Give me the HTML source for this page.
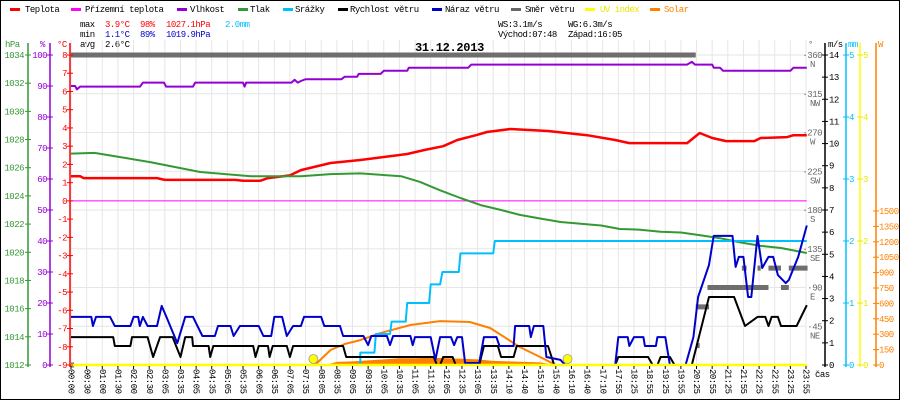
<!DOCTYPE html>
<html><head><meta charset="utf-8">
<style>
html,body{margin:0;padding:0;background:#fff;}
#wrap{position:relative;width:900px;height:400px;overflow:hidden;}
svg{display:block;font-family:"Liberation Mono","DejaVu Sans Mono",monospace;font-size:9px;letter-spacing:-0.5px;}
</style></head>
<body>
<div id="wrap">
<svg id="chart" width="900" height="400" viewBox="0 0 900 400" xmlns="http://www.w3.org/2000/svg">
<rect x="0.5" y="0.5" width="899" height="399" fill="#fff" stroke="#000" stroke-width="1"/>
<g id="legend">
  <rect x="10" y="8" width="10" height="3" fill="#ff0000"/>
  <text x="25" y="12">Teplota</text>
  <rect x="71" y="8" width="10" height="3" fill="#ff00ff"/>
  <text x="85" y="12">Přízemní teplota</text>
  <rect x="177" y="8" width="10" height="3" fill="#9400d3"/>
  <text x="190" y="12">Vlhkost</text>
  <rect x="238" y="8" width="10" height="3" fill="#339933"/>
  <text x="250" y="12">Tlak</text>
  <rect x="283" y="8" width="10" height="3" fill="#00bfff"/>
  <text x="295" y="12">Srážky</text>
  <rect x="338" y="8" width="10" height="3" fill="#000"/>
  <text x="350" y="12">Rychlost větru</text>
  <rect x="432" y="8" width="10" height="3" fill="#0000cc"/>
  <text x="445" y="12">Náraz větru</text>
  <rect x="511" y="8" width="10" height="3" fill="#666"/>
  <text x="525" y="12">Směr větru</text>
  <rect x="585" y="8" width="10" height="3" fill="#ffff00"/>
  <text x="600" y="12" fill="#e8e800">UV index</text>
  <rect x="650" y="8" width="10" height="3" fill="#ff8000"/>
  <text x="664" y="12" fill="#ff8000">Solar</text>
</g>
<g id="stats">
  <text x="80" y="27">max</text>
  <text x="105" y="27" fill="#ff0000">3.9°C</text>
  <text x="140" y="27" fill="#ff0000">98%</text>
  <text x="166" y="27" fill="#ff0000">1027.1hPa</text>
  <text x="225" y="27" fill="#00bfff">2.0mm</text>
  <text x="80" y="37">min</text>
  <text x="105" y="37" fill="#0000cc">1.1°C</text>
  <text x="140" y="37" fill="#0000cc">89%</text>
  <text x="166" y="37" fill="#0000cc">1019.9hPa</text>
  <text x="80" y="47">avg</text>
  <text x="105" y="47">2.6°C</text>
  <text x="498" y="27">WS:3.1m/s</text>
  <text x="568" y="27">WG:6.3m/s</text>
  <text x="498" y="37">Východ:07:48</text>
  <text x="568" y="37">Západ:16:05</text>
</g>
<g id="grid"></g>
<g id="series"></g>
<g id="axes"></g>
<text x="415" y="51" font-size="12" font-weight="bold" letter-spacing="-0.3">31.12.2013</text>
</svg>
</div>
<script>
// ---- data ----
const timeLabels = ["00:00","00:30","01:00","01:30","02:00","02:30","03:05","03:35","04:05","04:35","05:05","05:35","06:05","06:35","07:05","07:35","08:05","08:35","09:05","09:35","10:05","10:35","11:05","11:35","12:05","12:35","13:05","13:35","14:10","14:40","15:10","15:40","16:10","16:40","17:10","17:55","18:25","18:55","19:25","19:55","20:25","20:55","21:25","21:55","22:25","22:55","23:25","23:55"];
const tempSlots = [0,0.6,0.8,5.5,6,10.5,11,12.1,12.6,14.0,14.7,16.6,18.5,21.5,22.6,23.8,24.7,25.9,26.6,28.1,30.5,33.0,34.8,35.7,37.3,39.4,40.2,41.0,41.9,43.7,44.1,45.8,46.2,47.05];
const tempValues = [1.35,1.35,1.25,1.25,1.15,1.15,1.1,1.1,1.25,1.4,1.69,2.08,2.24,2.57,2.79,3.0,3.34,3.6,3.78,3.94,3.83,3.6,3.34,3.17,3.17,3.17,3.72,3.45,3.28,3.28,3.45,3.5,3.6,3.6];
const groundSlots = [0,47.05];
const groundValues = [0,0];
const humSlots = [0,0.26,0.38,0.58,4.42,4.6,5.95,6.08,7.8,7.94,11.0,11.1,11.2,14.1,14.3,14.5,14.7,15.0,17.3,17.5,18.3,18.4,19.8,20.0,21.5,21.6,25.4,25.6,39.4,39.7,39.9,41.0,41.1,41.5,41.7,46.0,46.2,47.05];
const humValues = [90.0,90.0,88.9,89.8,89.8,91.1,91.1,89.8,89.8,91.1,91.1,89.8,91.1,91.1,92.0,91.1,91.6,92.2,92.2,93.0,93.0,93.9,93.9,94.9,94.9,95.9,95.9,96.9,96.9,97.8,96.9,96.9,95.9,95.9,94.9,94.9,95.9,95.9];
const presSlots = [0,1.5,3.1,5.06,8.26,11.5,14.7,16.6,18.5,21.1,22.3,23.6,24.9,26.2,27.5,28.7,30.0,31.3,33.9,35.1,36.4,37.7,39.0,40.3,41.5,42.8,44.1,45.4,47.05];
const presValues = [1027.0,1027.05,1026.76,1026.4,1025.7,1025.4,1025.4,1025.55,1025.6,1025.4,1025.0,1024.4,1023.85,1023.35,1023.0,1022.65,1022.4,1022.15,1021.9,1021.65,1021.6,1021.45,1021.4,1021.2,1021.0,1020.7,1020.45,1020.3,1019.95];
const rainSlots = [18.5,18.5,19.4,19.5,20.4,20.5,21.4,21.5,22.9,23.0,23.6,23.75,24.8,24.9,27.0,27.1,47.05];
const rainValues = [0,0.2,0.2,0.5,0.5,0.7,0.7,1.0,1.0,1.3,1.3,1.5,1.5,1.8,1.8,2.0,2.0];
const windSlots = [0,2.7,2.8,3.8,3.9,4.9,5.25,5.7,6.5,7.0,7.3,7.75,7.8,8.8,8.9,9.1,11.65,11.8,12.0,12.6,12.7,12.9,13.8,14.0,14.2,17.4,17.6,23.2,23.4,23.6,23.8,24.4,24.6,26.1,26.4,27.3,27.5,28.3,28.5,30.5,30.9,34.8,35.0,36.9,37.2,37.5,37.7,38.3,38.6,39.7,40.8,42.4,43.1,43.9,44.4,44.6,44.8,45.2,45.4,46.4,47.05];
const windValues = [1.26,1.26,0.86,0.86,1.26,1.26,0.36,1.26,1.26,0.36,1.26,1.26,0.86,0.86,0.36,0.86,0.86,0.36,0.86,0.86,0.36,0.86,0.86,0.36,0.86,0.86,0.36,0.36,0,0,0.36,0.36,0,0,0.86,0.86,0.36,0.36,0.86,0.86,0,0,0.36,0.36,0,0,0.36,0.36,0,0,3.07,3.07,1.76,2.17,2.17,1.76,2.17,2.17,1.76,1.76,2.7];
const gustSlots = [0,1.3,1.4,1.6,2.5,2.8,3.8,4.0,4.3,4.4,4.6,4.9,5.5,5.8,6.1,6.8,7.3,7.8,8.4,9.2,9.4,10.2,10.4,10.8,12.0,12.3,12.8,13.0,13.5,13.8,14.2,14.7,14.9,16.0,16.2,17.2,17.4,18.7,19.0,19.2,20.2,20.4,20.6,21.7,21.85,22.0,23.0,23.3,23.6,24.3,24.5,24.7,25.0,25.2,26.1,26.4,27.2,27.4,28.3,28.4,29.3,29.4,29.6,30.2,30.4,31.3,31.6,34.8,35.0,35.6,35.7,36.0,36.6,36.7,37.4,37.5,38.0,38.3,39.3,39.8,40.1,40.8,41.1,42.3,42.5,42.7,43.0,43.3,43.5,43.9,44.2,44.6,44.9,45.2,45.7,45.9,46.5,47.05];
const gustValues = [2.17,2.17,1.76,2.17,2.17,1.76,1.76,2.17,2.17,1.76,2.17,1.76,1.76,2.67,2.17,0.99,2.17,2.17,1.31,1.31,1.76,1.76,1.31,1.76,1.76,1.31,1.31,2.17,2.17,1.31,1.76,1.76,2.17,2.17,1.76,1.76,1.31,1.31,0.9,1.31,1.31,0.9,1.31,1.31,0.9,1.26,1.26,0.23,1.26,1.26,0.9,1.26,1.26,0.09,0.09,1.26,1.26,0.86,0.86,1.76,1.76,1.26,1.76,1.76,0.36,0.23,0,0,1.26,1.26,0.86,1.26,1.26,0.86,0.86,1.26,1.26,0,0,1.26,3.07,4.52,5.83,5.83,4.43,4.88,4.88,3.07,3.07,5.83,4.38,4.88,4.88,4.06,3.7,3.84,4.88,6.3];
const dirStart = [0,0,39.95,40.0,40.7,43.0,45.4,42.9,43.9,44.6,45.9];
const dirEnd   = [39.95,0.2,40.8,40.2,43.0,44.6,45.9,43.2,44.1,45.4,47.1];
const dirDeg   = [360,0,67.5,22.5,90,90,90,112.5,112.5,112.5,112.5];
const solarMaxSlots = [15.6,16.6,17.5,18.5,19.8,21.7,23.6,25.5,26.8,28.7,30.0,31.0];
const solarMaxValues = [0,146,205,243,312,390,428,419,360,175,78,0];
const solarSlots = [16.3,16.5,17,18,19,20,21,22,23,24,25,26,27,28,29,30,30.8,30.9];
const solarValues = [0,10,30,35,45,55,65,65,70,65,60,55,40,35,30,25,5,0];
const sunSlots = [15.5,31.75];
const uvSlots = [0,47.05];
const uvValues = [0,0];
const hpaTicks = [1034,1032,1030,1028,1026,1024,1022,1020,1018,1016,1014,1012];
const humTicks = [100,90,80,70,60,50,40,30,20,10,0];
const tempTicks = [8,7,6,5,4,3,2,1,0,-1,-2,-3,-4,-5,-6,-7,-8,-9];
const degTicks = [360,315,270,225,180,135,90,45];
const degNames = ["N","NW","W","SW","S","SE","E","NE"];
const msTicks = [14,13,12,11,10,9,8,7,6,5,4,3,2,1,0];
const mmTicks = [5,4,3,2,1,0];
const wTicks = [1500,1350,1200,1050,900,750,600,450,300,150,0];

// ---- scales ----
const NS="http://www.w3.org/2000/svg";
const xS = i => 71 + i*(806-71)/47;
const yC = t => 55 + (8-t)*310/17;
const yP = p => 365 - p*3.1;
const yH = h => 55 + (1034-h)*310/22;
const yMS = v => 365 - v*310/14;
const yDeg = d => 365 - d*310/360;
const yMM = m => 365 - m*62;
const yW = w => 365 - w*154/1500;

function mk(parent, tag, attrs, txt){
  const e=document.createElementNS(NS,tag);
  for(const k in attrs) e.setAttribute(k,attrs[k]);
  if(txt!==undefined) e.textContent=txt;
  parent.appendChild(e);
  return e;
}
const grid=document.getElementById('grid');
const series=document.getElementById('series');
const axes=document.getElementById('axes');

// grid
timeLabels.forEach((lab,i)=>{
  const l=mk(grid,'line',{x1:xS(i),x2:xS(i),y1:40,y2:365,stroke:'#e6e6e6','stroke-width':1});
  
  
  const tk=mk(axes,'line',{x1:xS(i),x2:xS(i),y1:366,y2:369,stroke:'#000','stroke-width':1});
  
  
  const t=mk(axes,'text',{x:xS(i),y:369,transform:'rotate(90 '+xS(i)+' 369)','dominant-baseline':'middle'},lab);
  
  
});
degTicks.forEach((d,k)=>{
  const l=mk(grid,'line',{x1:70,x2:806,y1:yDeg(d),y2:yDeg(d),stroke:'#e6e6e6','stroke-width':1});
  
  
  const t=mk(axes,'text',{x:822,y:yDeg(d)+3,'text-anchor':'end',fill:'#666'},'·'+d);
  
  
  const n=mk(axes,'text',{x:810,y:yDeg(d)+12,fill:'#666'},degNames[k]);
  
  
});

function poly(xs,ys,color,w,name){
  const pts=xs.map((s,i)=>xS(s).toFixed(1)+','+ys[i].toFixed(1)).join(' ');
  const p=mk(series,'polyline',{points:pts,fill:'none',stroke:color,'stroke-width':w,'stroke-linejoin':'round'});
  
  
  return p;
}
// solar actual (filled)
{
  let d='M'+xS(solarSlots[0])+','+365;
  solarSlots.forEach((s,i)=>{d+=' L'+xS(s).toFixed(1)+','+yW(solarValues[i]).toFixed(1);});
  d+=' L'+xS(solarSlots[solarSlots.length-1])+',365 Z';
  const p=mk(series,'path',{d:d,fill:'#ff8000',stroke:'none'});
  
  
}
poly(solarMaxSlots,solarMaxValues.map(yW),'#ff8000',2,'solar-max-line');
poly(groundSlots,groundValues.map(yC),'#ff00ff',1,'ground-temp-line');
poly(humSlots,humValues.map(yP),'#9400d3',2,'humidity-line');
poly(tempSlots,tempValues.map(yC),'#ff0000',2.5,'temperature-line');
poly(presSlots,presValues.map(yH),'#339933',2,'pressure-line');
poly(rainSlots,rainValues.map(yMM),'#00bfff',2,'precip-line');
// direction bars
dirDeg.forEach((d,i)=>{
  const r=mk(series,'rect',{x:xS(dirStart[i]),y:yDeg(d)-2.5,width:Math.max(3,xS(dirEnd[i])-xS(dirStart[i])),height:5,fill:'#6e6e6e'});
  
  
});
poly(windSlots,windValues.map(yMS),'#000',2,'wind-speed-line');
poly(gustSlots,gustValues.map(yMS),'#0000cc',2,'wind-gust-line');
poly(uvSlots,uvValues.map(yMM),'#ffff00',2.5,'uv-index-line');
sunSlots.forEach(s=>{
  const c=mk(series,'circle',{cx:xS(s),cy:359,r:4.5,fill:'#ffff00',stroke:'#999','stroke-width':0.8});
  
  
});

// axes
function vaxis(x,y1,y2,color,name){
  const l=mk(axes,'line',{x1:x,x2:x,y1:y1,y2:y2,stroke:color,'stroke-width':1.5});
  
  
}
vaxis(28,43,367,'#339933','pressure-axis');
vaxis(50,43,367,'#9400d3','humidity-axis');
vaxis(70,43,367,'#ff0000','temperature-axis');
vaxis(825,43,367,'#000','wind-speed-axis');
vaxis(846,43,367,'#00bfff','precip-axis');
vaxis(860,43,367,'#ffff00','uv-axis');
vaxis(876,43,367,'#ff8000','solar-axis');
function ticks(vals,scale,ax,lx,anchor,color,name,fmt){
  vals.forEach(v=>{
    const y=scale(v);
    const t=mk(axes,'line',{x1:ax-3,x2:ax+3,y1:y,y2:y,stroke:color,'stroke-width':1});
    
    
    const l=mk(axes,'text',{x:lx,y:y+3,'text-anchor':anchor,fill:color},fmt?fmt(v):String(v));
    
    
  });
}
ticks(hpaTicks,yH,28,24,'end','#339933','pressure');
ticks(humTicks,yP,50,47,'end','#9400d3','humidity');
ticks(tempTicks,yC,70,67,'end','#ff0000','temperature');
ticks(msTicks,yMS,825,829,'start','#000','wind-speed');
ticks(mmTicks,yMM,846,849,'start','#00bfff','precip');
ticks(mmTicks,yMM,860,863,'start','#e8e800','uv');
ticks(wTicks,yW,876,879,'start','#ff8000','solar');

const heads=[[5,'hPa','#339933','pressure-axis-title'],[40,'%','#9400d3','humidity-axis-title'],[57,'°C','#ff0000','temperature-axis-title'],[808,'°','#666','direction-axis-title'],[828,'m/s','#000','wind-speed-axis-title'],[848,'mm','#00bfff','precip-axis-title'],[878,'W','#ff8000','solar-axis-title']];
heads.forEach(h=>{
  const t=mk(axes,'text',{x:h[0],y:47,fill:h[2]},h[1]);
  
  
});
{
  const t=mk(axes,'text',{x:815,y:377,fill:'#000'},'čas');
  
  
}
</script>
</body></html>
